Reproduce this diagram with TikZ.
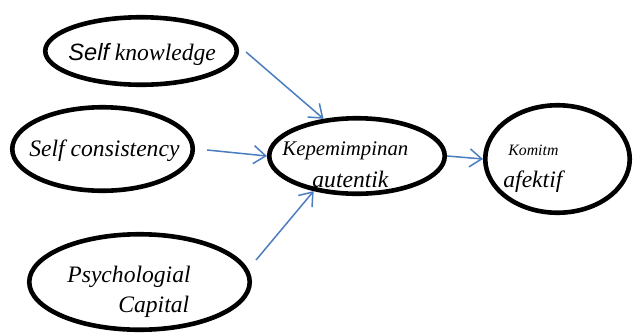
\documentclass[tikz,border=0pt]{standalone}
\usepackage{fontspec}
\setmainfont{Liberation Serif}
\newfontfamily\sansf{Liberation Sans}
\usetikzlibrary{shapes.geometric,arrows.meta,calc}
\definecolor{arrblue}{RGB}{74,126,193}
\tikzset{
  oval/.style={draw=black, line width=2.3pt, ellipse, inner sep=0pt},
  lbl/.style={anchor=base west, inner sep=0pt, font=\fontsize{11.8}{14}\selectfont\itshape},
  arr/.style={draw=arrblue, line width=0.75pt, -{Straight Barb[length=6pt,width=9pt,line width=0.75pt]}}
}
\begin{document}
\begin{tikzpicture}[x=0.5pt,y=-0.5pt]
\useasboundingbox (0,0) rectangle (633,333);
\node[oval, minimum width=95.75pt, minimum height=33.75pt] (sk) at (141,51) {};
\node[oval, minimum width=90.25pt, minimum height=41.75pt] (sc) at (102.5,149) {};
\node[oval, minimum width=110.25pt, minimum height=47.75pt] (pc) at (139.5,282) {};
\node[oval, minimum width=87.75pt, minimum height=37.75pt] (kep) at (357,156) {};
\node[oval, minimum width=72.25pt, minimum height=53.75pt] (kom) at (557.5,159) {};
\node[lbl] (t1) at (68,60) {{\sansf Self} knowledge};
\node[lbl] (t2) at (29,156) {Self consistency};
\node[lbl] (t3) at (67,282) {Psychologial};
\node[lbl] (t4) at (118,312) {Capital};
\node[lbl, font=\fontsize{10.4}{12}\selectfont\itshape] (t5) at (282,155) {Kepemimpinan};
\node[lbl] (t6) at (312,187) {autentik};
\node[lbl, font=\fontsize{7.9}{9}\selectfont\itshape] (t7) at (508,155) {Komitm};
\node[lbl] (t8) at (503,187) {afektif};
\draw[arr] ($(sk.east)+(7,1)$) -- (kep.132);
\draw[arr] ($(sc.east)+(12,1)$) -- (kep.west);
\draw[arr] ($(pc.east)+(4,-22)$) -- (kep.219);
\draw[arr] (kep.east) -- (kom.west);
\end{tikzpicture}
\end{document}
